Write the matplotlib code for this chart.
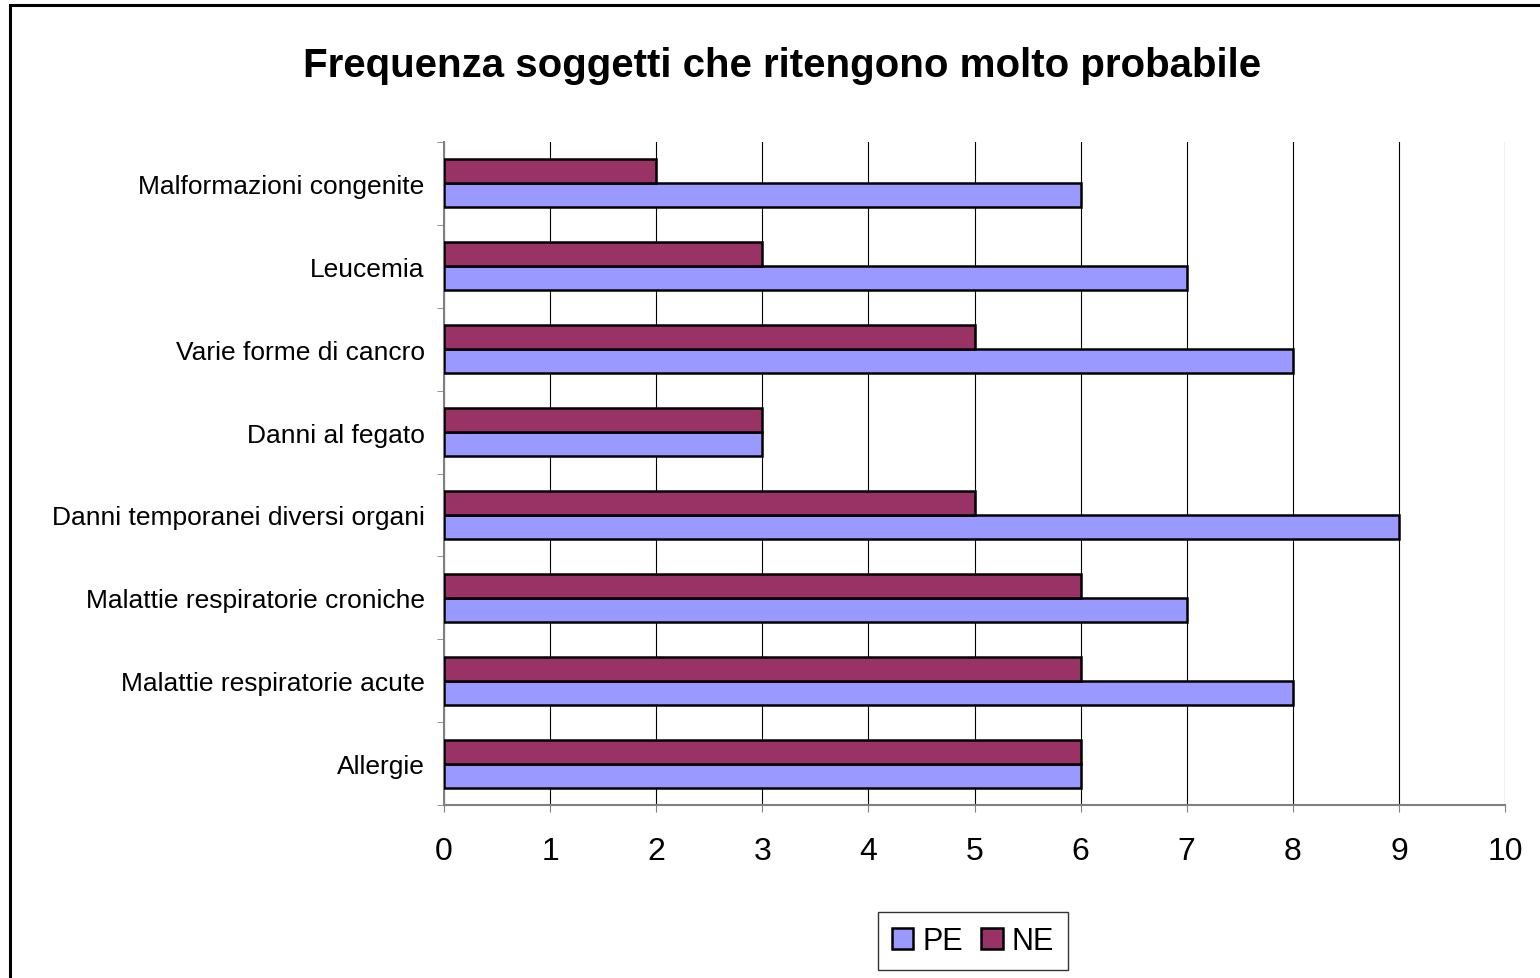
import numpy as np
from matplotlib import pyplot as plt
from matplotlib.patches import Rectangle

plt.rcParams['font.family'] = ['Liberation Sans', 'DejaVu Sans']

categories = ['Allergie', 'Malattie respiratorie acute', 'Malattie respiratorie croniche',
              'Danni temporanei diversi organi', 'Danni al fegato', 'Varie forme di cancro',
              'Leucemia', 'Malformazioni congenite']
pe_values = [6, 8, 7, 9, 3, 8, 7, 6]
ne_values = [6, 6, 6, 5, 3, 5, 3, 2]

title = 'Frequenza soggetti che ritengono molto probabile'
pe_color = '#9999FF'
ne_color = '#993366'

fig = plt.figure(figsize=(15.4, 9.79), dpi=100)
ax = fig.add_axes([444 / 1540, 1 - 806 / 979, (1505 - 444) / 1540, (806 - 143) / 979])

y = np.arange(len(categories))
h = 0.29
ax.barh(y - h / 2, pe_values, height=h, color=pe_color, edgecolor='black', linewidth=1.8,
        label='PE', zorder=3)
ax.barh(y + h / 2, ne_values, height=h, color=ne_color, edgecolor='black', linewidth=1.8,
        label='NE', zorder=3)

ax.set_xlim(0, 10)
ax.set_ylim(-0.5, len(categories) - 0.5)
ax.set_xticks(range(0, 11))
ax.tick_params(axis='x', labelsize=23, length=5, color='#808080', pad=17)
ax.set_yticks(y)
ax.set_yticklabels(categories, fontsize=19)
ax.tick_params(axis='y', length=0, pad=14)
ax.set_yticks(np.arange(-0.5, len(categories)), minor=True)
ax.tick_params(axis='y', which='minor', length=5, color='#808080')
ax.grid(axis='x', color='black', linewidth=0.8, zorder=0)

for side in ['top', 'right']:
    ax.spines[side].set_visible(False)
for side in ['left', 'bottom']:
    ax.spines[side].set_color('#808080')
    ax.spines[side].set_linewidth(1.5)

fig.text(782 / 1540, 1 - 66 / 979, title, ha='center', va='center', fontsize=29,
         fontweight='bold')

leg = fig.legend(loc='center', bbox_to_anchor=(973 / 1540, 1 - 942 / 979), ncol=2,
                 fontsize=22, frameon=True, fancybox=False, handlelength=0.7,
                 handleheight=0.7, handletextpad=0.3, columnspacing=0.6,
                 borderpad=0.45)
leg.get_frame().set_edgecolor('black')
leg.get_frame().set_linewidth(1.0)

border = Rectangle((10 / 1540, -0.1), 1.2, 1 - 6 / 979 + 0.1, transform=fig.transFigure,
                   fill=False, edgecolor='black', linewidth=2.2, clip_on=False)
fig.patches.append(border)

fig.savefig('out.png', dpi=100)
